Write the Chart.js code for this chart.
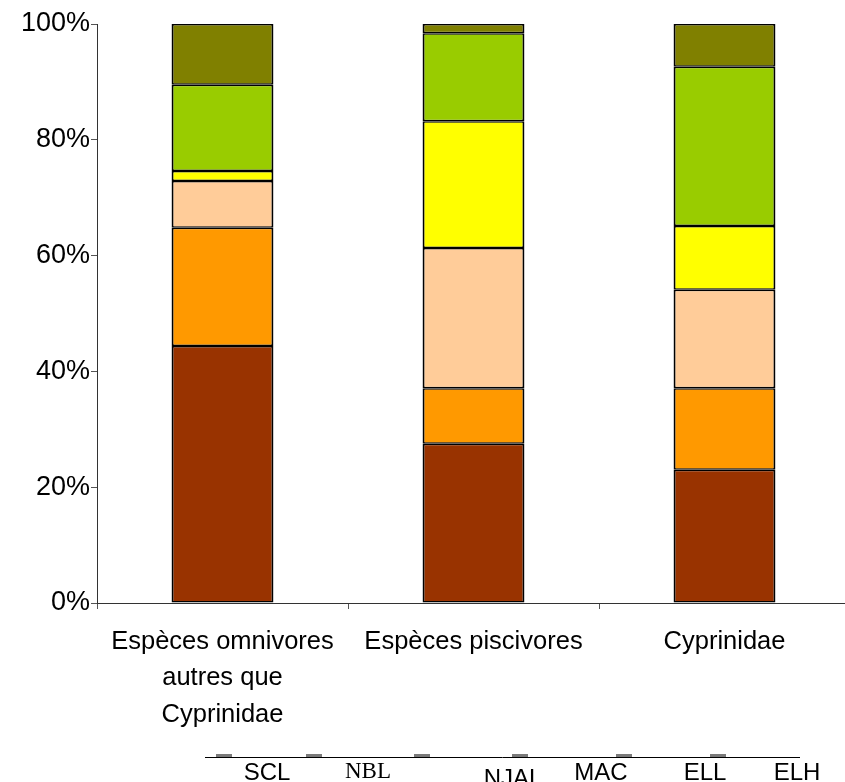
<!DOCTYPE html>
<html>
<head>
<meta charset="utf-8">
<script src="https://cdn.jsdelivr.net/npm/chart.js@4"></script>
<style>
  html, body { margin: 0; padding: 0; background: #fff; overflow: hidden; }
  #wrap { width: 860px; height: 782px; }
</style>
</head>
<body>
<div id="wrap"><canvas id="c" width="860" height="782"></canvas></div>
<script>
// Groupes d'espèces (catégories de l'axe X)
const categories = [
  ["Espèces omnivores", "autres que", "Cyprinidae"],
  "Espèces piscivores",
  "Cyprinidae"
];

// Parts (%) de chaque classe par groupe
const SCL  = [44.4, 27.5, 23.0];
const NBL  = [20.4,  9.6, 14.1];
const NJAL = [ 8.1, 24.2, 17.0];
const MAC  = [ 1.7, 21.9, 11.0];
const ELL  = [14.9, 15.2, 27.5];
const ELH  = [10.5,  1.6,  7.4];

const seriesNames = ["SCL", "NBL", "NJAL", "MAC", "ELL", "ELH"];
const yTicks = [0, 20, 40, 60, 80, 100];

const colors = ["#993300", "#FF9900", "#FFCC99", "#FFFF00", "#99CC00", "#808000"];
const values = [SCL, NBL, NJAL, MAC, ELL, ELH];

const datasets = seriesNames.map((name, i) => ({
  label: name,
  data: values[i],
  backgroundColor: colors[i],
  borderColor: "#000",
  borderWidth: { left: 2, right: 2, top: 1.5, bottom: 1.5 },
  borderSkipped: false,
  barPercentage: 0.406,
  categoryPercentage: 1.0
}));

// Légende en bas : trait horizontal, petits repères et libellés
const bottomLegend = {
  id: "bottomLegend",
  afterDraw(chart) {
    const ctx = chart.ctx;
    ctx.save();
    ctx.strokeStyle = "#000";
    ctx.lineWidth = 1;
    ctx.beginPath();
    ctx.moveTo(205, 757.5);
    ctx.lineTo(800, 757.5);
    ctx.stroke();

    const marks = [224, 314, 422, 520, 624, 718];
    ctx.fillStyle = "#7a7a7a";
    marks.forEach(x => ctx.fillRect(x - 8, 754, 16, 3));

    const labelX = [267, 368, 513, 601, 705, 797];
    const labelY = [780, 778, 786, 780, 780, 780];
    ctx.fillStyle = "#000";
    ctx.textAlign = "center";
    ctx.textBaseline = "alphabetic";
    seriesNames.forEach((name, i) => {
      ctx.font = name === "NBL" ? "23px 'Liberation Serif'" : "24px 'Liberation Sans'";
      ctx.fillText(name, labelX[i], labelY[i]);
    });
    ctx.restore();
  }
};

new Chart(document.getElementById("c"), {
  type: "bar",
  data: { labels: categories, datasets },
  plugins: [bottomLegend],
  options: {
    responsive: false,
    animation: false,
    layout: { padding: { top: 24, right: 10, bottom: 0, left: 0 } },
    plugins: {
      legend: { display: false },
      tooltip: { enabled: false }
    },
    scales: {
      x: {
        stacked: true,
        grid: {
          offset: true,
          drawOnChartArea: false,
          drawTicks: true,
          tickLength: 6,
          color: "#555"
        },
        border: { color: "#333", width: 1 },
        ticks: {
          color: "#000",
          padding: 15,
          maxRotation: 0,
          autoSkip: false,
          font: { family: "'Liberation Sans'", size: 25.5, lineHeight: 1.42 }
        },
        afterFit(scale) { scale.height = 782 - 603; }
      },
      y: {
        stacked: true,
        min: 0,
        max: 100,
        afterBuildTicks(scale) { scale.ticks = yTicks.map(v => ({ value: v })); },
        grid: {
          drawOnChartArea: false,
          drawTicks: true,
          tickLength: 6,
          color: "#555"
        },
        border: { color: "#333", width: 1 },
        ticks: {
          color: "#000",
          padding: 1,
          font: { family: "'Liberation Sans'", size: 27 },
          callback: v => v + "%"
        },
        afterFit(scale) { scale.width = 97; }
      }
    }
  }
});
</script>
</body>
</html>
